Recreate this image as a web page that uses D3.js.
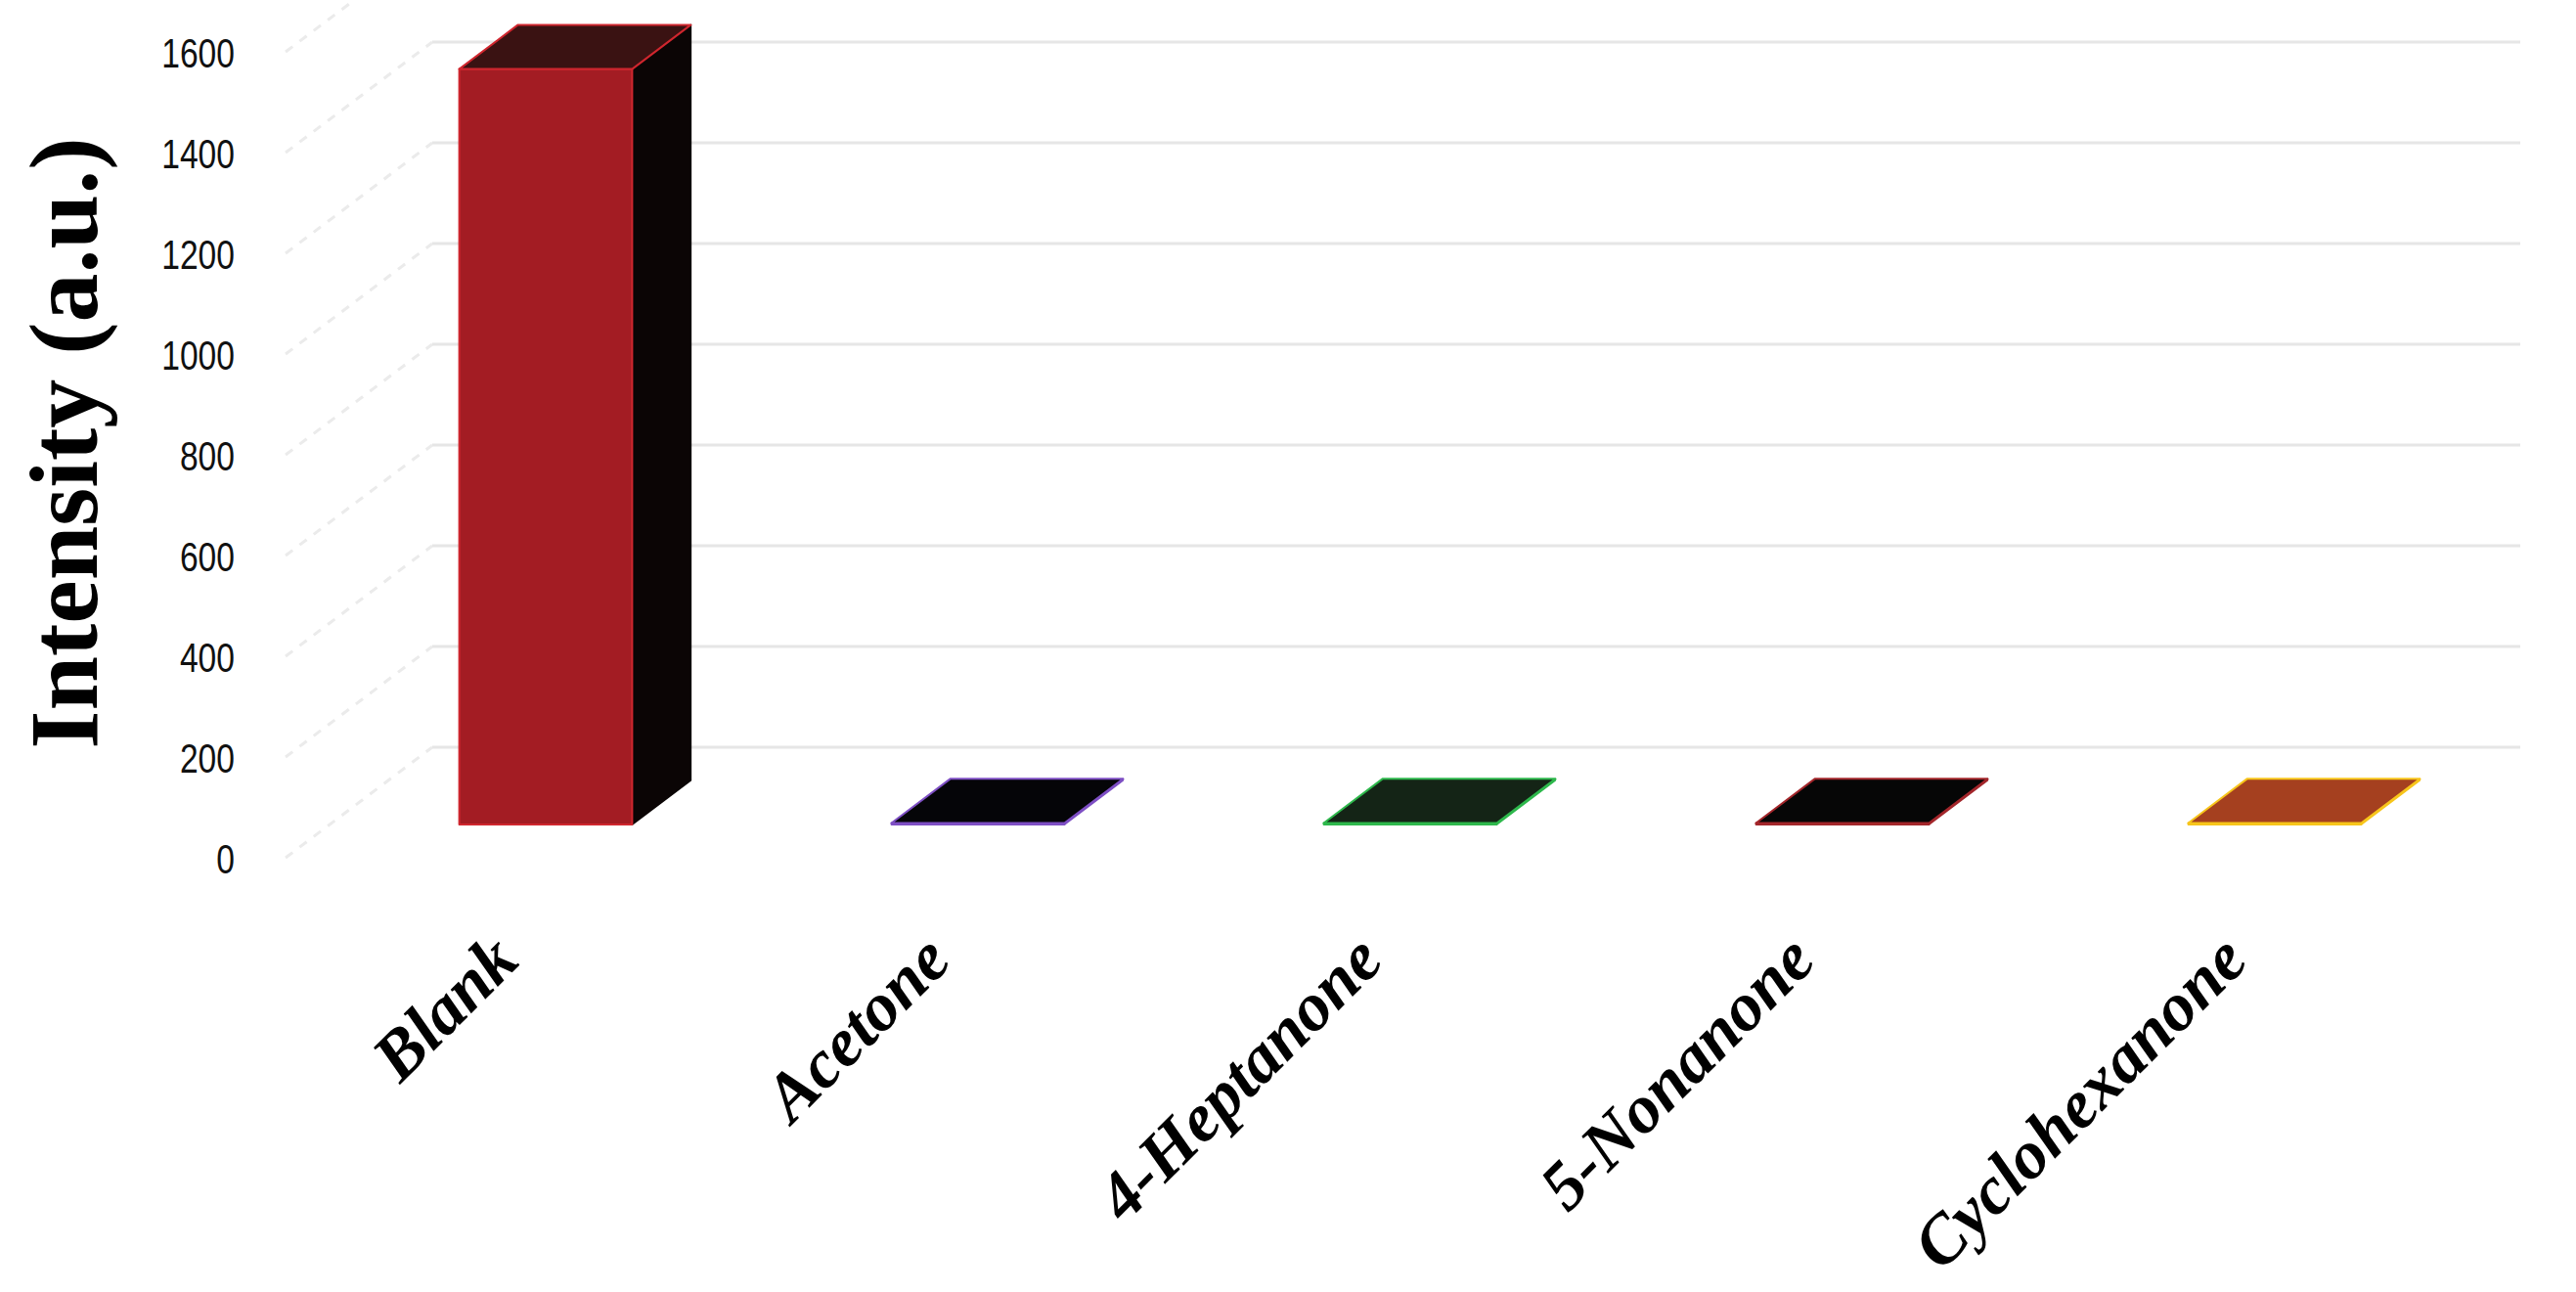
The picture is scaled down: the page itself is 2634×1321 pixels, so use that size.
<!DOCTYPE html>
<html>
<head>
<meta charset="utf-8">
<script src="https://cdn.jsdelivr.net/npm/d3@7"></script>
<style>
    html, body { margin: 0; padding: 0; background: #fff; }
    svg { display: block; }
    .tick-label { font-family: "Liberation Sans", Arial, sans-serif; font-size: 42px; fill: #111; }
    .y-title { font-family: "Liberation Serif", "Times New Roman", serif; font-weight: bold; font-size: 100px; fill: #000; }
    .x-label { font-family: "Liberation Serif", "Times New Roman", serif; font-weight: bold; font-style: italic; font-size: 70px; fill: #000; }
</style>
</head>
<body>
<svg id="chart" width="2634" height="1321"></svg>
<script>
(function(){
    'use strict';

    /*******************************************************************
     *                              DATA                               *
     *******************************************************************/

    var categories = ['Blank', 'Acetone', '4-Heptanone', '5-Nonanone', 'Cyclohexanone'];
    var intensity  = [1500, 3, 3, 3, 3];
    var yTicks     = [0, 200, 400, 600, 800, 1000, 1200, 1400, 1600];

    //bar colours: front, top, side and outline
    var frontColors = ['#a31c23', '#050508', '#142416', '#060606', '#a5401f'];
    var topColors   = ['#3a1212', '#050508', '#142416', '#060606', '#a5401f'];
    var sideColors  = ['#0b0505', '#050508', '#142416', '#060606', '#a5401f'];
    var edgeColors  = ['#d0262e', '#7e4fc4', '#2eb84c', '#a3262b', '#f7c51b'];

    /*******************************************************************
     *                             LAYOUT                              *
     *******************************************************************/

    //oblique 3d projection: full floor depth moves points by (depthX, depthY)
    var depthX = 150,
        depthY = -113;

    //bars sit between these fractions of the floor depth
    var barFront = 0.3,
        barBack  = 0.7;

    //right end of the back wall (front plane coords)
    var wallRight = 2427;

    var svg = d3.select('#chart');

    var x = d3.scaleBand()
        .domain(categories)
        .range([292, 2502])
        .paddingInner(0.6)
        .paddingOuter(0.3);

    var y = d3.scaleLinear()
        .domain([0, 1600])
        .range([877, 53]);

    /**
     * Projects a point (x on front plane, value, depth fraction) to screen
     */
    function proj(px, v, f) {
        return [px + depthX * f, y(v) + depthY * f];
    }

    function poly(points) {
        return points.map(function(p) { return p.join(','); }).join(' ');
    }

    /*******************************************************************
     *                          WALLS & GRID                           *
     *******************************************************************/

    var grid = svg.append('g').attr('class', 'grid');

    //back wall gridlines
    grid.selectAll('line.back')
        .data(yTicks)
        .enter()
        .append('line')
        .attr('class', 'back')
        .attr('x1', function(d) { return proj(x.range()[0], d, 1)[0]; })
        .attr('y1', function(d) { return proj(x.range()[0], d, 1)[1]; })
        .attr('x2', function(d) { return proj(wallRight, d, 1)[0]; })
        .attr('y2', function(d) { return proj(wallRight, d, 1)[1]; })
        .attr('stroke', '#e6e6e6')
        .attr('stroke-width', 3);

    //side wall gridlines (dashed)
    grid.selectAll('line.side')
        .data(yTicks)
        .enter()
        .append('line')
        .attr('class', 'side')
        .attr('x1', function(d) { return proj(x.range()[0], d, 0)[0]; })
        .attr('y1', function(d) { return proj(x.range()[0], d, 0)[1]; })
        .attr('x2', function(d) { return proj(x.range()[0], d, 1)[0]; })
        .attr('y2', function(d) { return proj(x.range()[0], d, 1)[1]; })
        .attr('stroke', '#ebebeb')
        .attr('stroke-width', 3)
        .attr('stroke-dasharray', '9,9');

    /*******************************************************************
     *                              BARS                               *
     *******************************************************************/

    var bw = x.bandwidth();

    var bars = svg.selectAll('g.bar')
        .data(categories)
        .enter()
        .append('g')
        .attr('class', 'bar');

    //side face
    bars.append('polygon')
        .attr('points', function(c, i) {
            var x1 = x(c) + bw, v = intensity[i];
            return poly([proj(x1, 0, barFront), proj(x1, v, barFront), proj(x1, v, barBack), proj(x1, 0, barBack)]);
        })
        .attr('fill', function(c, i) { return sideColors[i]; })
        .attr('stroke', function(c, i) { return i === 0 ? sideColors[i] : edgeColors[i]; })
        .attr('stroke-width', 1.5)
        .attr('stroke-linejoin', 'round');

    //front face
    bars.append('polygon')
        .attr('points', function(c, i) {
            var x0 = x(c), x1 = x0 + bw, v = intensity[i];
            return poly([proj(x0, 0, barFront), proj(x0, v, barFront), proj(x1, v, barFront), proj(x1, 0, barFront)]);
        })
        .attr('fill', function(c, i) { return frontColors[i]; })
        .attr('stroke', function(c, i) { return edgeColors[i]; })
        .attr('stroke-width', 2)
        .attr('stroke-linejoin', 'round');

    //top face
    bars.append('polygon')
        .attr('points', function(c, i) {
            var x0 = x(c), x1 = x0 + bw, v = intensity[i];
            return poly([proj(x0, v, barFront), proj(x1, v, barFront), proj(x1, v, barBack), proj(x0, v, barBack)]);
        })
        .attr('fill', function(c, i) { return topColors[i]; })
        .attr('stroke', function(c, i) { return edgeColors[i]; })
        .attr('stroke-width', 2)
        .attr('stroke-linejoin', 'round');

    /*******************************************************************
     *                              AXES                               *
     *******************************************************************/

    var yAxis = d3.axisLeft(y)
        .tickValues(yTicks)
        .tickFormat(d3.format('d'))
        .tickSize(0)
        .tickPadding(0);

    var yAxisG = svg.append('g')
        .attr('class', 'y axis')
        .attr('transform', 'translate(240, 0)')
        .call(yAxis);

    yAxisG.attr('font-family', null).attr('font-size', null);
    yAxisG.select('.domain').remove();
    yAxisG.selectAll('text')
        .attr('class', 'tick-label')
        .attr('x', 0)
        .attr('dy', '0.36em')
        .each(function() {
            //tick numbers in the original are narrow
            var w = this.getComputedTextLength();
            d3.select(this)
                .attr('textLength', w * 0.8)
                .attr('lengthAdjust', 'spacingAndGlyphs');
        });

    svg.append('text')
        .attr('class', 'y-title')
        .attr('transform', 'translate(99, 453) rotate(-90)')
        .attr('text-anchor', 'middle')
        .text('Intensity (a.u.)');

    //category labels, rotated
    svg.selectAll('text.x-label')
        .data(categories)
        .enter()
        .append('text')
        .attr('class', 'x-label')
        .attr('text-anchor', 'end')
        .attr('transform', function(c) {
            var cx = proj(x(c) + bw / 2, 0, barFront)[0];
            return 'translate(' + (cx - 25) + ', 985) rotate(-45)';
        })
        .text(function(c) { return c; });
})();
</script>
</body>
</html>
